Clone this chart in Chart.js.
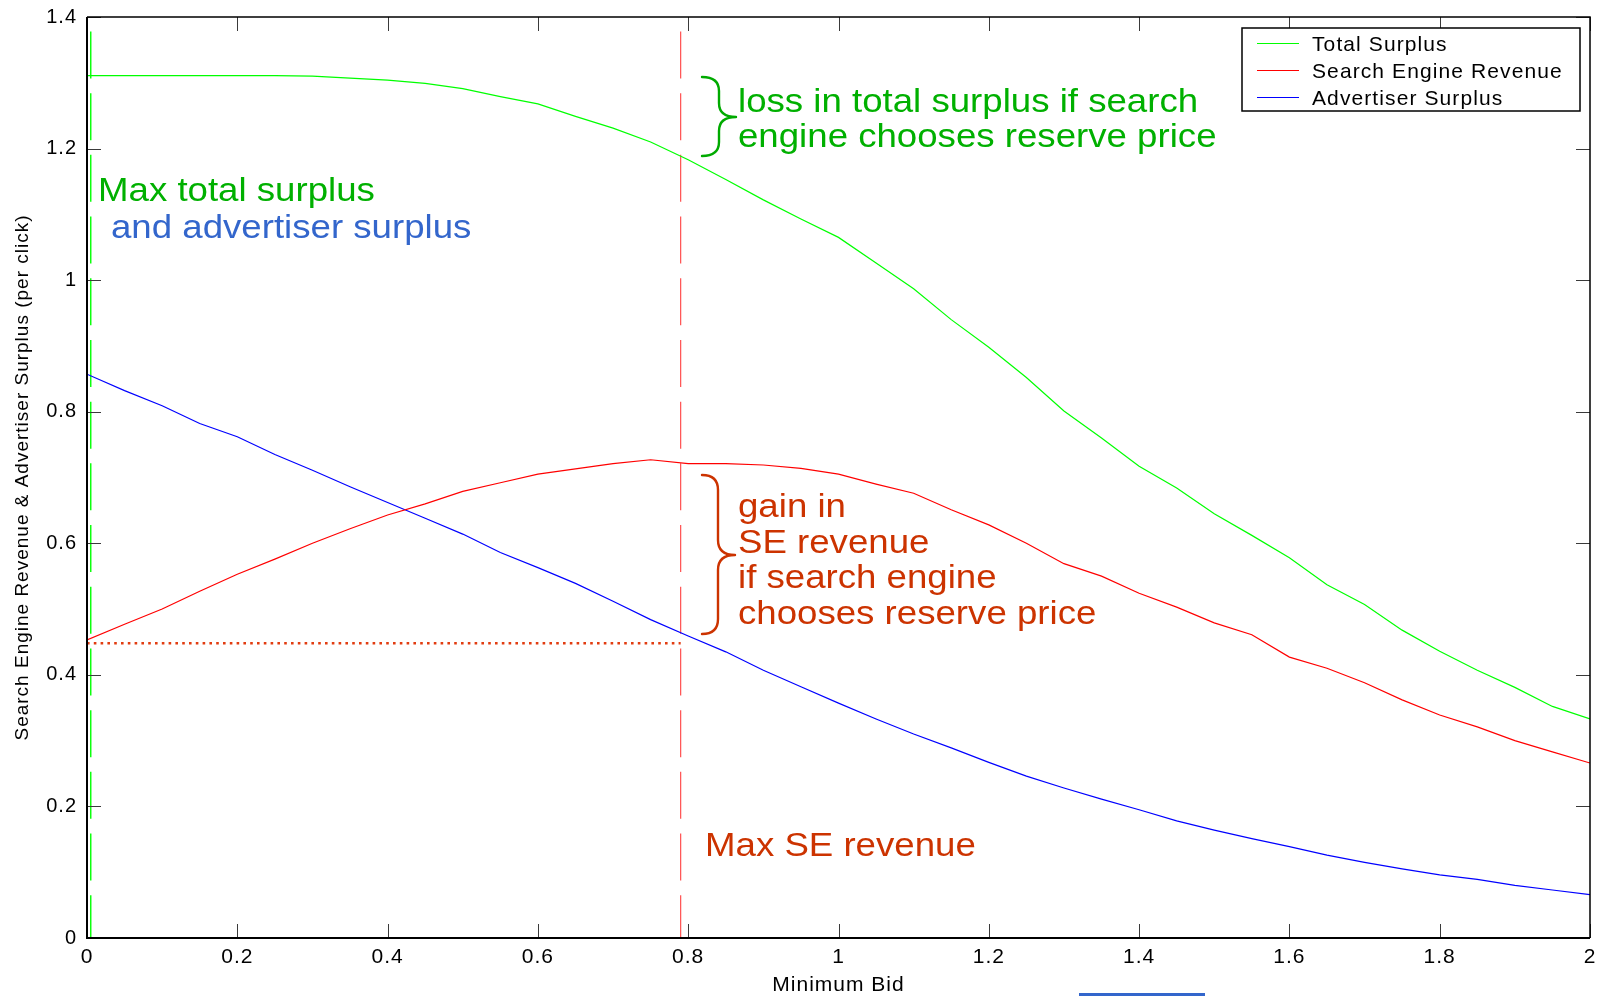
<!DOCTYPE html>
<html>
<head>
<meta charset="utf-8">
<script src="https://cdn.jsdelivr.net/npm/chart.js@4.4.0/dist/chart.umd.min.js"></script>
<style>
html,body{margin:0;padding:0;background:#fff;}
canvas{display:block;}
</style>
</head>
<body>
<canvas id="c" width="1603" height="996"></canvas>
<script>
// ---------- data ----------
const minimumBid = [0,0.05,0.1,0.15,0.2,0.25,0.3,0.35,0.4,0.45,0.5,0.55,0.6,0.65,0.7,0.75,0.8,0.85,0.9,0.95,1.0,
  1.05,1.1,1.15,1.2,1.25,1.3,1.35,1.4,1.45,1.5,1.55,1.6,1.65,1.7,1.75,1.8,1.85,1.9,1.95,2.0];
const totalSurplus = [1.311,1.311,1.311,1.311,1.311,1.311,1.310,1.307,1.304,1.299,1.291,1.279,1.268,1.249,1.231,1.210,1.183,1.153,1.122,1.093,1.065,
  1.026,0.987,0.940,0.898,0.852,0.801,0.760,0.717,0.684,0.645,0.612,0.578,0.537,0.507,0.468,0.436,0.407,0.381,0.352,0.333];
const searchEngineRevenue = [0.453,0.477,0.500,0.527,0.553,0.576,0.600,0.622,0.643,0.660,0.679,0.692,0.705,0.713,0.721,0.727,0.721,0.721,0.719,0.714,0.705,
  0.690,0.676,0.651,0.628,0.600,0.569,0.550,0.524,0.503,0.479,0.461,0.427,0.410,0.388,0.362,0.339,0.321,0.300,0.283,0.266];
const advertiserSurplus = [0.857,0.832,0.809,0.782,0.762,0.735,0.711,0.686,0.662,0.638,0.614,0.586,0.563,0.539,0.512,0.484,0.459,0.435,0.407,0.382,0.357,
  0.333,0.310,0.289,0.267,0.246,0.228,0.211,0.195,0.178,0.164,0.151,0.139,0.126,0.115,0.105,0.096,0.089,0.080,0.073,0.066];

const seriesNames = ['Total Surplus','Search Engine Revenue','Advertiser Surplus'];
const xTickValues = [0,0.2,0.4,0.6,0.8,1,1.2,1.4,1.6,1.8,2];
const xTickLabels = ['0','0.2','0.4','0.6','0.8','1','1.2','1.4','1.6','1.8','2'];
const yTickValues = [0,0.2,0.4,0.6,0.8,1,1.2,1.4];
const yTickLabels = ['0','0.2','0.4','0.6','0.8','1','1.2','1.4'];

const maxSurplusBid = [0.005, 0.005];
const maxRevenueBid = [0.79, 0.79];
const markerSpan = [1.378, 0];
const revenueBaseBid = [0, 0.79];
const revenueBaseValue = [0.448, 0.448];

const xTitle = 'Minimum Bid';
const yTitle = 'Search Engine Revenue & Advertiser Surplus (per click)';
const noteMaxSurplus = ['Max total surplus', 'and advertiser surplus'];
const noteLoss = ['loss in total surplus if search', 'engine chooses reserve price'];
const noteGain = ['gain in', 'SE revenue', 'if search engine', 'chooses reserve price'];
const noteMaxRevenue = 'Max SE revenue';

// ---------- styles ----------
const FONT = '"Liberation Sans", Arial, Helvetica, sans-serif';
const lineColors = ['#00ff00', '#ff0000', '#0000ff'];

const pts = (xs, ys) => xs.map((v, i) => ({x: v, y: ys[i]}));

function stretched(ctx, txt, x, y, color, sx) {
  ctx.save();
  ctx.translate(x, y);
  ctx.scale(sx, 1);
  ctx.fillStyle = color;
  ctx.fillText(txt, 0, 0);
  ctx.restore();
}
function brace(ctx, x0, xs, xt, top, mid, bottom, r, color) {
  ctx.save();
  ctx.strokeStyle = color; ctx.lineWidth = 2.4; ctx.lineCap = 'round'; ctx.lineJoin = 'round';
  ctx.beginPath();
  ctx.moveTo(x0, top);
  ctx.quadraticCurveTo(xs, top, xs, top + r);
  ctx.lineTo(xs, mid - r);
  ctx.quadraticCurveTo(xs, mid, xt, mid);
  ctx.quadraticCurveTo(xs, mid, xs, mid + r);
  ctx.lineTo(xs, bottom - r);
  ctx.quadraticCurveTo(xs, bottom, x0, bottom);
  ctx.stroke();
  ctx.restore();
}

const decor = {
  id: 'decor',
  beforeDraw(chart) {
    chart.ctx.letterSpacing = '1px';
  },
  afterDatasetsDraw(chart) {
    const {ctx, chartArea: a, scales: {x, y}} = chart;
    ctx.save();
    ctx.letterSpacing = '0px';
    // inward tick marks on all four sides
    ctx.strokeStyle = '#3a3a3a'; ctx.lineWidth = 1;
    ctx.beginPath();
    xTickValues.forEach(v => {
      const px = Math.round(x.getPixelForValue(v)) + 0.5;
      ctx.moveTo(px, a.bottom); ctx.lineTo(px, a.bottom - 14);
      ctx.moveTo(px, a.top); ctx.lineTo(px, a.top + 14);
    });
    yTickValues.forEach(v => {
      const py = Math.round(y.getPixelForValue(v)) + 0.5;
      ctx.moveTo(a.left, py); ctx.lineTo(a.left + 14, py);
      ctx.moveTo(a.right, py); ctx.lineTo(a.right - 14, py);
    });
    ctx.stroke();
    // frame
    ctx.strokeStyle = '#000';
    ctx.lineWidth = 1.5;
    ctx.beginPath();
    ctx.moveTo(a.left, a.top); ctx.lineTo(a.right, a.top); ctx.lineTo(a.right, a.bottom);
    ctx.stroke();
    ctx.lineWidth = 2;
    ctx.beginPath();
    ctx.moveTo(a.left, a.top); ctx.lineTo(a.left, a.bottom); ctx.lineTo(a.right, a.bottom);
    ctx.stroke();

    // annotations
    ctx.font = '33px ' + FONT;
    ctx.textAlign = 'left'; ctx.textBaseline = 'alphabetic';
    const SX = 1.11;
    stretched(ctx, noteMaxSurplus[0], 98, 201, '#00b000', SX);
    stretched(ctx, noteMaxSurplus[1], 111, 238, '#3366cc', SX);
    stretched(ctx, noteLoss[0], 738, 112, '#00b000', SX);
    stretched(ctx, noteLoss[1], 738, 147, '#00b000', SX);
    noteGain.forEach((t, i) => stretched(ctx, t, 738, 517 + i * 35.5, '#cc3300', SX));
    stretched(ctx, noteMaxRevenue, 705, 856, '#cc3300', SX);
    brace(ctx, 702, 719, 736, 77, 117, 156, 14, '#00aa00');
    brace(ctx, 702, 718, 735, 475, 555, 634, 15, '#cc3300');

    // legend
    const lx = 1242, ly = 28, lw = 338, lh = 83;
    ctx.fillStyle = '#fff';
    ctx.fillRect(lx, ly, lw, lh);
    ctx.strokeStyle = '#000'; ctx.lineWidth = 1.5;
    ctx.strokeRect(lx, ly, lw, lh);
    ctx.font = '21px ' + FONT;
    ctx.letterSpacing = '1.1px';
    ctx.fillStyle = '#000';
    const rowsY = [43, 70, 97];
    seriesNames.forEach((n, i) => {
      ctx.strokeStyle = lineColors[i]; ctx.lineWidth = 1.2;
      ctx.beginPath(); ctx.moveTo(1257, rowsY[i] + 0.5); ctx.lineTo(1299, rowsY[i] + 0.5); ctx.stroke();
      ctx.fillText(n, 1312, rowsY[i] + 7.5);
    });
    ctx.letterSpacing = '0px';

    // small blue bar below the axis title
    ctx.fillStyle = '#3366cc';
    ctx.fillRect(1079, 993, 126, 3);
    ctx.restore();
  }
};

new Chart(document.getElementById('c'), {
  type: 'line',
  data: {
    datasets: [
      {label: seriesNames[0], data: pts(minimumBid, totalSurplus), borderColor: lineColors[0], borderWidth: 1.2, pointRadius: 0, tension: 0},
      {label: seriesNames[1], data: pts(minimumBid, searchEngineRevenue), borderColor: lineColors[1], borderWidth: 1.2, pointRadius: 0, tension: 0},
      {label: seriesNames[2], data: pts(minimumBid, advertiserSurplus), borderColor: lineColors[2], borderWidth: 1.2, pointRadius: 0, tension: 0},
      {label: 'max surplus', data: pts(maxSurplusBid, markerSpan), borderColor: '#00ff00', borderWidth: 1.4, borderDash: [47, 14.7], pointRadius: 0},
      {label: 'max revenue', data: pts(maxRevenueBid, markerSpan), borderColor: '#ff4040', borderWidth: 1.1, borderDash: [47, 14.7], pointRadius: 0},
      {label: 'revenue base', data: pts(revenueBaseBid, revenueBaseValue), borderColor: '#e23c10', borderWidth: 2.4, borderDash: [2.6, 4.2], pointRadius: 0}
    ]
  },
  options: {
    responsive: false,
    animation: false,
    events: [],
    layout: {padding: {top: 17, right: 13, left: 0, bottom: 0}},
    plugins: {legend: {display: false}, tooltip: {enabled: false}},
    scales: {
      x: {
        type: 'linear', min: 0, max: 2,
        grid: {display: false, drawTicks: true, tickLength: 7},
        border: {display: false},
        afterFit(s) { s.height = 58; },
        afterBuildTicks(s) { s.ticks = xTickValues.map(v => ({value: v})); },
        ticks: {
          padding: 0, color: '#000', autoSkip: false, maxRotation: 0,
          font: {size: 21, family: FONT},
          callback: v => { const i = xTickValues.findIndex(t => Math.abs(t - v) < 1e-9); return i >= 0 ? xTickLabels[i] : ''; }
        },
        title: {display: true, text: xTitle, color: '#000', font: {size: 21, family: FONT, lineHeight: 1.0}, padding: {top: 0, bottom: 0}}
      },
      y: {
        type: 'linear', min: 0, max: 1.4,
        grid: {display: false, drawTicks: true, tickLength: 10},
        border: {display: false},
        afterFit(s) { s.width = 87; },
        afterBuildTicks(s) { s.ticks = yTickValues.map(v => ({value: v})); },
        ticks: {
          padding: 0, color: '#000', autoSkip: false,
          font: {size: 20, family: FONT},
          callback: v => { const i = yTickValues.findIndex(t => Math.abs(t - v) < 1e-9); return i >= 0 ? yTickLabels[i] : ''; }
        },
        title: {display: true, text: yTitle, color: '#000', font: {size: 19, family: FONT}, padding: {top: 11, bottom: 0}}
      }
    }
  },
  plugins: [decor]
});
</script>
</body>
</html>
